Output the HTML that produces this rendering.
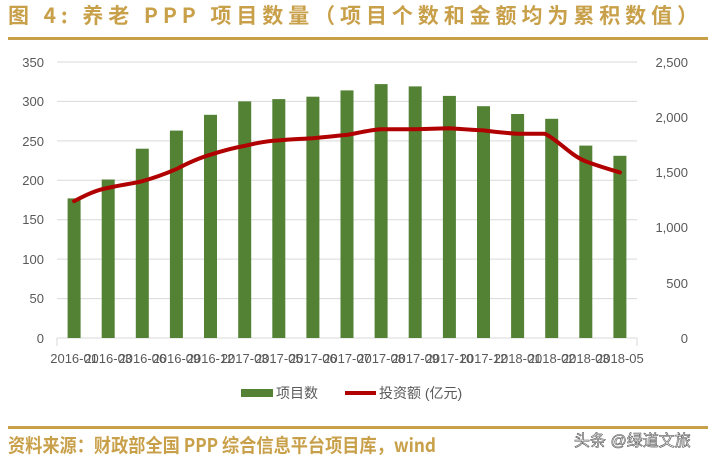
<!DOCTYPE html>
<html><head><meta charset="utf-8"><style>
body{margin:0;background:#fff;}
svg{display:block;font-family:"Liberation Sans","Noto Sans CJK SC",sans-serif;}
</style></head><body>
<svg width="713" height="461" viewBox="0 0 713 461">
<text x="8" y="23" font-size="21" font-weight="bold" fill="#c9a04a" textLength="690" lengthAdjust="spacing" font-family="'Noto Sans CJK SC',sans-serif">图 4: 养老 PPP 项目数量（项目个数和金额均为累积数值）</text>
<rect x="8" y="37" width="700" height="3" fill="#c9a04a"/>
<g stroke="#d9d9d9" stroke-width="1">
<line x1="57" y1="62" x2="637" y2="62"/><line x1="57" y1="101.4" x2="637" y2="101.4"/>
<line x1="57" y1="140.9" x2="637" y2="140.9"/><line x1="57" y1="180.3" x2="637" y2="180.3"/>
<line x1="57" y1="219.7" x2="637" y2="219.7"/><line x1="57" y1="259.1" x2="637" y2="259.1"/>
<line x1="57" y1="298.6" x2="637" y2="298.6"/><line x1="57" y1="338" x2="637" y2="338"/>
</g>
<g font-size="13" fill="#595959" text-anchor="end">
<text x="44" y="67">350</text><text x="44" y="106">300</text><text x="44" y="146">250</text><text x="44" y="185">200</text><text x="44" y="224">150</text><text x="44" y="264">100</text><text x="44" y="303">50</text><text x="44" y="343">0</text>
</g>
<g font-size="13" fill="#595959" text-anchor="end">
<text x="688" y="67">2,500</text><text x="688" y="122">2,000</text><text x="688" y="177">1,500</text><text x="688" y="232">1,000</text><text x="688" y="288">500</text><text x="688" y="343">0</text>
</g>
<g fill="#548235">
<rect x="67.6" y="198.4" width="13" height="139.6"/>
<rect x="101.7" y="179.5" width="13" height="158.5"/>
<rect x="135.8" y="148.7" width="13" height="189.3"/>
<rect x="169.9" y="130.6" width="13" height="207.4"/>
<rect x="204" y="114.8" width="13" height="223.2"/>
<rect x="238.2" y="101.4" width="13" height="236.6"/>
<rect x="272.3" y="99.1" width="13" height="238.9"/>
<rect x="306.4" y="96.7" width="13" height="241.3"/>
<rect x="340.5" y="90.4" width="13" height="247.6"/>
<rect x="374.6" y="84.1" width="13" height="253.9"/>
<rect x="408.7" y="86.4" width="13" height="251.6"/>
<rect x="442.9" y="95.9" width="13" height="242.1"/>
<rect x="477" y="106.2" width="13" height="231.8"/>
<rect x="511.1" y="114" width="13" height="224"/>
<rect x="545.2" y="118.8" width="13" height="219.2"/>
<rect x="579.3" y="145.6" width="13" height="192.4"/>
<rect x="613.4" y="155.8" width="13" height="182.2"/>
</g>
<path d="M74.1,201.1 C86,195 96,190 108.2,187.9 C120,185 131,184 142.3,181.2 C154,178 165,174 176.4,169.1 C188,163 199,158 210.5,154.7 C222,151 233,148 244.7,145.9 C256,143 267,141 278.8,140.4 C290,139 301,139 312.9,138.2 C324,137 336,136 347,134.9 C358,133 370,130 381.1,129.3 L415.2,129.3 L449.4,128.2 C461,129 472,130 483.5,130.4 C495,132 506,133 517.6,133.8 L545,133.8 C558,140 570,155 585.8,161.4 C598,166 608,169 619.9,172.4" fill="none" stroke="#b00000" stroke-width="4" stroke-linecap="round" stroke-linejoin="round"/>
<g stroke="#d9d9d9"><line x1="57" y1="338" x2="57" y2="346"/><line x1="637" y1="338" x2="637" y2="346"/></g>
<g font-size="13" fill="#595959" text-anchor="middle">
<text x="74.1" y="363">2016-01</text><text x="108.2" y="363">2016-03</text><text x="142.3" y="363">2016-06</text><text x="176.4" y="363">2016-09</text><text x="210.5" y="363">2016-12</text><text x="244.7" y="363">2017-03</text><text x="278.8" y="363">2017-05</text><text x="312.9" y="363">2017-06</text><text x="347" y="363">2017-07</text><text x="381.1" y="363">2017-08</text><text x="415.2" y="363">2017-09</text><text x="449.4" y="363">2017-10</text><text x="483.5" y="363">2017-12</text><text x="517.6" y="363">2018-01</text><text x="551.7" y="363">2018-02</text><text x="585.8" y="363">2018-03</text><text x="619.9" y="363">2018-05</text>
</g>
<rect x="241" y="389" width="32" height="8" fill="#548235"/>
<text x="276" y="398" font-size="14" fill="#595959">项目数</text>
<line x1="345" y1="393" x2="376" y2="393" stroke="#b00000" stroke-width="4"/>
<text x="379" y="398" font-size="14" fill="#595959">投资额 (亿元)</text>
<rect x="8" y="426" width="700" height="3" fill="#c9a04a"/>
<text x="8" y="452" font-size="19" font-weight="bold" fill="#c9a04a" textLength="428" lengthAdjust="spacingAndGlyphs" font-family="'Noto Sans CJK SC',sans-serif">资料来源：财政部全国 PPP 综合信息平台项目库，wind</text>
<text x="574" y="446" font-size="16" fill="#fff" stroke="#555" stroke-width="0.6">头条 @绿道文旅</text>
</svg>
</body></html>
